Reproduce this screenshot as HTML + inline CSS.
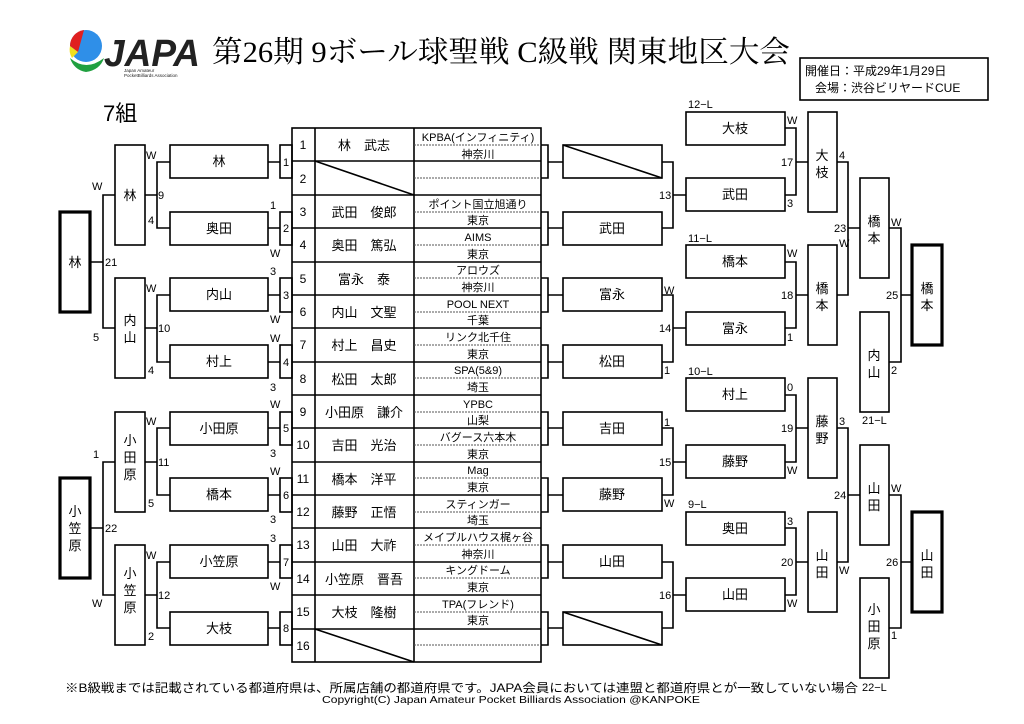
<!DOCTYPE html>
<html><head><meta charset="utf-8">
<style>
html,body{margin:0;padding:0;background:#fff;}
svg{display:block;font-family:"Liberation Sans","Noto Sans CJK JP",sans-serif;}
.b{fill:#fff;stroke:#000;stroke-width:1.6}
.k{fill:#fff;stroke:#000;stroke-width:3.2}
.l{fill:none;stroke:#000;stroke-width:1.6}
.d{fill:none;stroke:#555;stroke-width:1;stroke-dasharray:2 1}
.n{font-size:13px;text-anchor:middle}
.s{font-size:11px}
.c{font-size:11px;text-anchor:middle}
</style></head><body>
<svg width="1024" height="724" viewBox="0 0 1024 724" xmlns="http://www.w3.org/2000/svg">
<!-- logo -->
<circle cx="86" cy="46" r="16" fill="#2f8fe8"/>
<path d="M70,46 A16,16 0 0 1 84,30 L78,52 Z" fill="#e02020"/>
<path d="M70,46 L78,52 L72,58 A16,16 0 0 1 70,46Z" fill="#f0e020"/>
<path d="M70,58 Q86,72 104,58 Q100,70 86,72 Q74,70 70,58Z" fill="#20a040"/>
<text x="104" y="66" font-size="38" font-weight="bold" font-style="italic" fill="#222" textLength="96" lengthAdjust="spacingAndGlyphs">JAPA</text>
<text x="124" y="72" font-size="4.5" fill="#222">Japan Amateur</text>
<text x="124" y="77" font-size="4.5" fill="#222">PocketBilliards Association</text>
<text x="212" y="62" font-size="30" font-family="'Liberation Serif','Noto Serif CJK SC',serif" textLength="578" lengthAdjust="spacingAndGlyphs">第26期 9ボール球聖戦 C級戦 関東地区大会</text>
<rect x="800" y="58" width="188" height="42" class="l"/>
<text x="805" y="75" font-size="12">開催日：平成29年1月29日</text>
<text x="815" y="92" font-size="12">会場：渋谷ビリヤードCUE</text>
<text x="103" y="121" font-size="22">7組</text>

<!-- table -->
<rect x="292" y="128" width="249" height="534" class="l"/>
<line x1="315" y1="128" x2="315" y2="662" class="l"/>
<line x1="414" y1="128" x2="414" y2="662" class="l"/>
<g class="l">
<path d="M292,161H541M292,195H541M292,228H541M292,262H541M292,295H541M292,328H541M292,362H541M292,395H541M292,428H541M292,462H541M292,495H541M292,528H541M292,562H541M292,595H541M292,629H541"/>
<path d="M315,161L414,195M315,629L414,662"/>
</g>
<g class="d"><path d="M414,145H541M414,178H541M414,212H541M414,245H541M414,278H541M414,312H541M414,345H541M414,378H541M414,412H541M414,445H541M414,478H541M414,512H541M414,545H541M414,578H541M414,612H541M414,645H541"/></g>
<g font-size="12" text-anchor="middle">
<text x="303" y="149">1</text><text x="303" y="183">2</text><text x="303" y="216">3</text><text x="303" y="249">4</text><text x="303" y="283">5</text><text x="303" y="316">6</text><text x="303" y="349">7</text><text x="303" y="383">8</text><text x="303" y="416">9</text><text x="303" y="449">10</text><text x="303" y="483">11</text><text x="303" y="516">12</text><text x="303" y="549">13</text><text x="303" y="583">14</text><text x="303" y="616">15</text><text x="303" y="650">16</text>
</g>
<g class="n">
<text x="364" y="150">林　武志</text><text x="364" y="217">武田　俊郎</text><text x="364" y="250">奥田　篤弘</text><text x="364" y="284">富永　泰</text><text x="364" y="317">内山　文聖</text><text x="364" y="350">村上　昌史</text><text x="364" y="384">松田　太郎</text><text x="364" y="417">小田原　謙介</text><text x="364" y="450">吉田　光治</text><text x="364" y="484">橋本　洋平</text><text x="364" y="517">藤野　正悟</text><text x="364" y="550">山田　大祚</text><text x="364" y="584">小笠原　晋吾</text><text x="364" y="617">大枝　隆樹</text>
</g>
<g class="c">
<text x="478" y="141">KPBA(インフィニティ)</text><text x="478" y="158">神奈川</text>
<text x="478" y="208">ポイント国立旭通り</text><text x="478" y="224">東京</text>
<text x="478" y="241">AIMS</text><text x="478" y="258">東京</text>
<text x="478" y="274">アロウズ</text><text x="478" y="291">神奈川</text>
<text x="478" y="308">POOL NEXT</text><text x="478" y="324">千葉</text>
<text x="478" y="341">リンク北千住</text><text x="478" y="358">東京</text>
<text x="478" y="374">SPA(5&amp;9)</text><text x="478" y="391">埼玉</text>
<text x="478" y="408">YPBC</text><text x="478" y="424">山梨</text>
<text x="478" y="441">バグース六本木</text><text x="478" y="458">東京</text>
<text x="478" y="474">Mag</text><text x="478" y="491">東京</text>
<text x="478" y="508">スティンガー</text><text x="478" y="524">埼玉</text>
<text x="478" y="541">メイプルハウス梶ヶ谷</text><text x="478" y="558">神奈川</text>
<text x="478" y="574">キングドーム</text><text x="478" y="591">東京</text>
<text x="478" y="608">TPA(フレンド)</text><text x="478" y="624">東京</text>
</g>

<!-- left small match boxes -->
<g class="l">
<rect x="280" y="145" width="12" height="33"/><rect x="280" y="212" width="12" height="33"/><rect x="280" y="278" width="12" height="34"/><rect x="280" y="345" width="12" height="33"/><rect x="280" y="412" width="12" height="33"/><rect x="280" y="478" width="12" height="34"/><rect x="280" y="545" width="12" height="33"/><rect x="280" y="612" width="12" height="33"/>
<path d="M268,162H280M268,228H280M268,295H280M268,362H280M268,428H280M268,495H280M268,562H280M268,628H280"/>
<!-- right small brackets -->
<path d="M541,145H548V178H541M541,212H548V245H541M541,278H548V312H541M541,345H548V378H541M541,412H548V445H541M541,478H548V512H541M541,545H548V578H541M541,612H548V645H541"/>
<path d="M548,162H563M548,228H563M548,295H563M548,362H563M548,428H563M548,495H563M548,562H563M548,628H563"/>
<!-- left connectors -->
<path d="M170,162H157V228H170M157,195H145M170,295H157V362H170M157,328H145M170,428H157V495H170M157,462H145M170,562H157V628H170M157,595H145"/>
<path d="M115,195H103V328H115M103,262H90M115,462H103V595H115M103,528H90"/>
<!-- right connectors -->
<path d="M662,162H673V228H662M673,195H686M662,295H673V362H662M673,328H686M662,428H673V495H662M673,462H686M662,562H673V628H662M673,595H686"/>
<path d="M785,128H796V195H785M796,162H808M785,262H796V328H785M796,295H808M785,395H796V462H785M796,428H808M785,528H796V595H785M796,562H808"/>
<path d="M837,162H848V295H837M848,228H860M837,428H848V562H837M848,495H860"/>
<path d="M889,228H901V362H889M901,295H912M889,495H901V628H889M901,562H912"/>
</g>
<g font-size="11" text-anchor="middle">
<text x="286" y="166">1</text><text x="286" y="232">2</text><text x="286" y="299">3</text><text x="286" y="366">4</text><text x="286" y="432">5</text><text x="286" y="499">6</text><text x="286" y="566">7</text><text x="286" y="632">8</text>
</g>

<!-- left boxes -->
<g class="b">
<rect x="170" y="145" width="98" height="33"/><rect x="170" y="212" width="98" height="33"/><rect x="170" y="278" width="98" height="33"/><rect x="170" y="345" width="98" height="33"/><rect x="170" y="412" width="98" height="33"/><rect x="170" y="478" width="98" height="33"/><rect x="170" y="545" width="98" height="33"/><rect x="170" y="612" width="98" height="33"/>
<rect x="115" y="145" width="30" height="100"/><rect x="115" y="278" width="30" height="100"/><rect x="115" y="412" width="30" height="100"/><rect x="115" y="545" width="30" height="100"/>
</g>
<rect x="60" y="212" width="30" height="100" class="k"/><rect x="60" y="478" width="30" height="100" class="k"/>
<g class="n">
<text x="219" y="166">林</text><text x="219" y="233">奥田</text><text x="219" y="299">内山</text><text x="219" y="366">村上</text><text x="219" y="433">小田原</text><text x="219" y="499">橋本</text><text x="219" y="566">小笠原</text><text x="219" y="633">大枝</text>
<text x="130" y="200">林</text>
<text x="130" y="325">内</text><text x="130" y="342">山</text>
<text x="130" y="445">小</text><text x="130" y="462">田</text><text x="130" y="479">原</text>
<text x="130" y="578">小</text><text x="130" y="595">笠</text><text x="130" y="612">原</text>
<text x="75" y="267">林</text>
<text x="75" y="516">小</text><text x="75" y="533">笠</text><text x="75" y="550">原</text>
</g>
<!-- right boxes -->
<g class="b">
<rect x="563" y="145" width="99" height="33"/><rect x="563" y="212" width="99" height="33"/><rect x="563" y="278" width="99" height="33"/><rect x="563" y="345" width="99" height="33"/><rect x="563" y="412" width="99" height="33"/><rect x="563" y="478" width="99" height="33"/><rect x="563" y="545" width="99" height="33"/><rect x="563" y="612" width="99" height="33"/>
<rect x="686" y="112" width="99" height="33"/><rect x="686" y="178" width="99" height="33"/><rect x="686" y="245" width="99" height="33"/><rect x="686" y="312" width="99" height="33"/><rect x="686" y="378" width="99" height="33"/><rect x="686" y="445" width="99" height="33"/><rect x="686" y="512" width="99" height="33"/><rect x="686" y="578" width="99" height="33"/>
<rect x="808" y="112" width="29" height="100"/><rect x="808" y="245" width="29" height="100"/><rect x="808" y="378" width="29" height="100"/><rect x="808" y="512" width="29" height="100"/>
<rect x="860" y="178" width="29" height="100"/><rect x="860" y="312" width="29" height="100"/><rect x="860" y="445" width="29" height="100"/><rect x="860" y="578" width="29" height="100"/>
</g>
<rect x="912" y="245" width="30" height="100" class="k"/><rect x="912" y="512" width="30" height="100" class="k"/>
<path d="M563,145L662,178M563,612L662,645" class="l"/>
<g class="n">
<text x="612" y="233">武田</text><text x="612" y="299">富永</text><text x="612" y="366">松田</text><text x="612" y="433">吉田</text><text x="612" y="499">藤野</text><text x="612" y="566">山田</text>
<text x="735" y="133">大枝</text><text x="735" y="199">武田</text><text x="735" y="266">橋本</text><text x="735" y="333">富永</text><text x="735" y="399">村上</text><text x="735" y="466">藤野</text><text x="735" y="533">奥田</text><text x="735" y="599">山田</text>
<text x="822" y="160">大</text><text x="822" y="177">枝</text>
<text x="822" y="293">橋</text><text x="822" y="310">本</text>
<text x="822" y="426">藤</text><text x="822" y="443">野</text>
<text x="822" y="560">山</text><text x="822" y="577">田</text>
<text x="874" y="226">橋</text><text x="874" y="243">本</text>
<text x="874" y="360">内</text><text x="874" y="377">山</text>
<text x="874" y="493">山</text><text x="874" y="510">田</text>
<text x="874" y="614">小</text><text x="874" y="631">田</text><text x="874" y="648">原</text>
<text x="927" y="293">橋</text><text x="927" y="310">本</text>
<text x="927" y="560">山</text><text x="927" y="577">田</text>
</g>

<!-- labels -->
<g class="s">
<text x="146" y="159">W</text><text x="158" y="199">9</text><text x="148" y="224">4</text>
<text x="146" y="292">W</text><text x="158" y="332">10</text><text x="148" y="374">4</text>
<text x="146" y="425">W</text><text x="158" y="466">11</text><text x="148" y="507">5</text>
<text x="146" y="559">W</text><text x="158" y="599">12</text><text x="148" y="640">2</text>
<text x="92" y="190">W</text><text x="105" y="266">21</text><text x="93" y="341">5</text>
<text x="93" y="458">1</text><text x="105" y="532">22</text><text x="92" y="607">W</text>
<text x="270" y="209">1</text><text x="270" y="257">W</text>
<text x="270" y="275">3</text><text x="270" y="323">W</text>
<text x="270" y="342">W</text><text x="270" y="391">3</text>
<text x="270" y="408">W</text><text x="270" y="457">3</text>
<text x="270" y="475">W</text><text x="270" y="523">3</text>
<text x="270" y="542">3</text><text x="270" y="590">W</text>
<text x="659" y="199">13</text><text x="664" y="294">W</text><text x="659" y="332">14</text><text x="664" y="374">1</text>
<text x="664" y="426">1</text><text x="659" y="466">15</text><text x="664" y="507">W</text><text x="659" y="599">16</text>
<text x="787" y="124">W</text><text x="781" y="166">17</text><text x="787" y="207">3</text>
<text x="787" y="257">W</text><text x="781" y="299">18</text><text x="787" y="341">1</text>
<text x="787" y="391">0</text><text x="781" y="432">19</text><text x="787" y="474">W</text>
<text x="787" y="525">3</text><text x="781" y="566">20</text><text x="787" y="607">W</text>
<text x="839" y="159">4</text><text x="834" y="232">23</text><text x="839" y="247">W</text>
<text x="839" y="425">3</text><text x="834" y="499">24</text><text x="839" y="574">W</text>
<text x="891" y="226">W</text><text x="886" y="299">25</text><text x="891" y="374">2</text>
<text x="891" y="492">W</text><text x="886" y="566">26</text><text x="891" y="639">1</text>
<text x="688" y="108">12−L</text><text x="688" y="242">11−L</text><text x="688" y="375">10−L</text><text x="688" y="508">9−L</text>
<text x="862" y="424">21−L</text><text x="862" y="691">22−L</text>
</g>
<text x="65" y="692" font-size="12" textLength="793" lengthAdjust="spacingAndGlyphs">※B級戦までは記載されている都道府県は、所属店舗の都道府県です。JAPA会員においては連盟と都道府県とが一致していない場合</text>
<text x="322" y="703" font-size="10.5" textLength="378" lengthAdjust="spacingAndGlyphs">Copyright(C) Japan Amateur Pocket Billiards Association @KANPOKE</text>
</svg>
</body></html>
